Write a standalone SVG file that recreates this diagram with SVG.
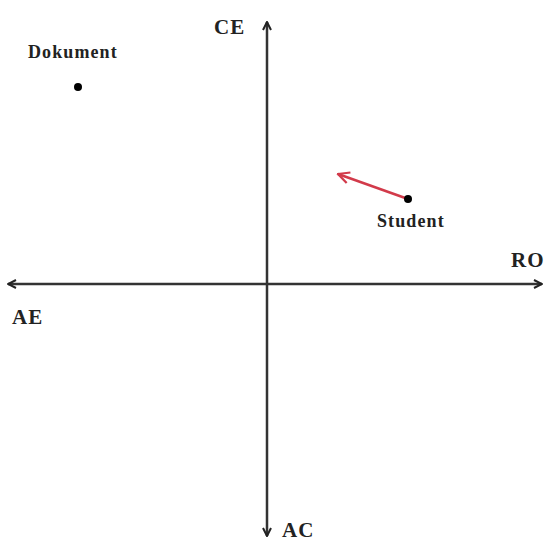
<svg xmlns="http://www.w3.org/2000/svg" width="547" height="541" viewBox="0 0 547 541">
<style>
.lbl{font-family:"Liberation Serif",serif;font-weight:bold;fill:#222}
.big{font-size:21px;letter-spacing:1px}
.sm{font-size:18px;letter-spacing:1.1px}
.ax{stroke:#333;stroke-width:2.5;fill:none}
</style>
<defs>
<marker id="ah" viewBox="0 0 10 10" refX="9" refY="5" markerWidth="10" markerHeight="10" markerUnits="userSpaceOnUse" orient="auto-start-reverse">
<path d="M1,1 L9,5 L1,9" fill="none" stroke="#222" stroke-width="2"/>
</marker>
<marker id="ahr" viewBox="0 0 10 10" refX="9" refY="5" markerWidth="14" markerHeight="14" markerUnits="userSpaceOnUse" orient="auto">
<path d="M1,1 L9,5 L1,9" fill="none" stroke="#d23a4a" stroke-width="1.6"/>
</marker>
</defs>
<g id="connectors">
<line class="ax" x1="267" y1="536" x2="267" y2="22" marker-end="url(#ah)" marker-start="url(#ah)"/>
<line class="ax" x1="8" y1="284" x2="542" y2="284" marker-end="url(#ah)" marker-start="url(#ah)"/>
<line x1="408" y1="199" x2="338" y2="174" stroke="#d23a4a" stroke-width="2.5" marker-end="url(#ahr)"/>
</g>
<g id="CE"><text class="lbl big" x="214" y="34">CE</text></g>
<g id="RO"><text class="lbl big" x="511" y="267">RO</text></g>
<g id="AE"><text class="lbl big" x="12" y="324">AE</text></g>
<g id="AC"><text class="lbl big" x="282" y="537">AC</text></g>
<g id="Dokument"><circle cx="78" cy="87" r="4" fill="#000"/><text class="lbl sm" x="28" y="58">Dokument</text></g>
<g id="Student"><circle cx="408" cy="199" r="4" fill="#000"/><text class="lbl sm" x="377" y="227">Student</text></g>
</svg>
